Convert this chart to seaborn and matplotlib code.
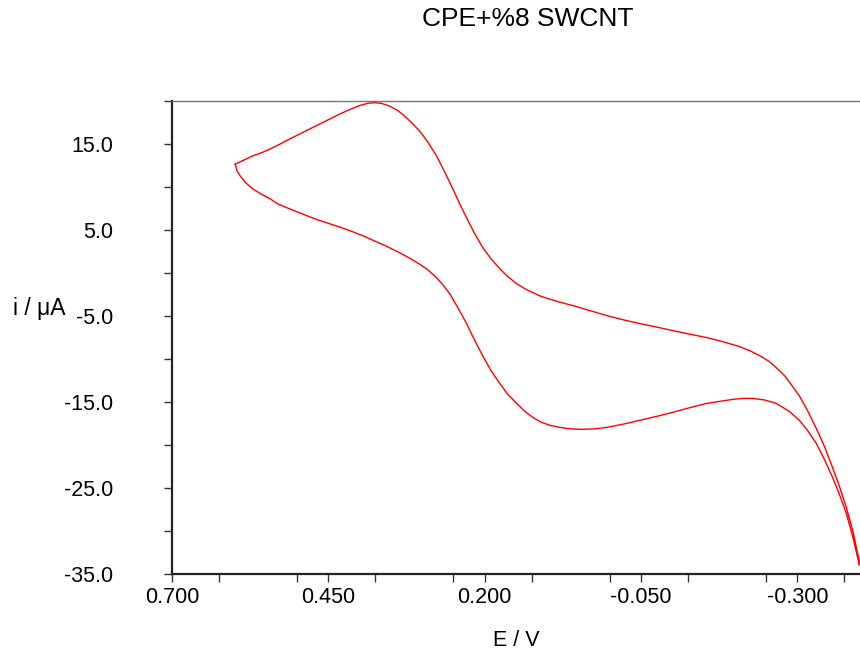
import numpy as np
import pandas as pd
import matplotlib
matplotlib.use("Agg")
import matplotlib.pyplot as plt
from matplotlib.ticker import MultipleLocator, FixedLocator
import seaborn as sns

title = "CPE+%8 SWCNT"
x_label = "E / V"
y_label = "i / μA"

# upper branch (left vertex -> right vertex)
E_upper = [0.599, 0.585, 0.571, 0.556, 0.543, 0.527, 0.512, 0.496, 0.480, 0.464,
           0.448, 0.432, 0.416, 0.400, 0.387, 0.376, 0.365, 0.352, 0.339, 0.328,
           0.317, 0.304, 0.291, 0.277, 0.264, 0.251, 0.240, 0.229, 0.216, 0.203,
           0.190, 0.176, 0.163, 0.149, 0.136, 0.123, 0.111, 0.096, 0.080, 0.059,
           0.032, 0.005, -0.020, -0.048, -0.075, -0.100, -0.127, -0.155, -0.180,
           -0.207, -0.223, -0.239, -0.255, -0.266, -0.279, -0.290, -0.303, -0.316,
           -0.330, -0.343, -0.356, -0.367, -0.378, -0.389, -0.399]
i_upper = [12.65, 13.14, 13.61, 14.01, 14.42, 15.00, 15.58, 16.16, 16.74, 17.32,
           17.90, 18.48, 19.00, 19.47, 19.73, 19.81, 19.72, 19.41, 18.89, 18.25,
           17.49, 16.51, 15.23, 13.61, 11.75, 9.78, 8.04, 6.42, 4.56, 2.94,
           1.66, 0.50, -0.43, -1.24, -1.82, -2.29, -2.69, -3.04, -3.39, -3.79,
           -4.37, -4.95, -5.42, -5.88, -6.29, -6.69, -7.10, -7.51, -7.97,
           -8.55, -9.01, -9.59, -10.29, -10.99, -11.91, -12.96, -14.29, -15.98,
           -18.06, -20.15, -22.59, -24.79, -27.23, -30.13, -33.60]

# lower branch (right vertex -> left vertex)
E_lower = [-0.399, -0.389, -0.378, -0.367, -0.356, -0.343, -0.330, -0.316, -0.303,
           -0.287, -0.266, -0.247, -0.228, -0.212, -0.196, -0.175, -0.155, -0.127,
           -0.100, -0.075, -0.048, -0.020, 0.005, 0.024, 0.043, 0.063, 0.080,
           0.096, 0.111, 0.123, 0.136, 0.149, 0.163, 0.176, 0.190, 0.203, 0.216,
           0.229, 0.243, 0.256, 0.267, 0.277, 0.291, 0.304, 0.320, 0.336, 0.357,
           0.379, 0.395, 0.411, 0.428, 0.448, 0.467, 0.484, 0.500, 0.516, 0.531,
           0.543, 0.558, 0.571, 0.582, 0.591, 0.596, 0.599]
i_lower = [-33.96, -30.82, -27.92, -25.72, -23.75, -21.66, -19.80, -18.29, -17.13,
           -16.09, -15.16, -14.76, -14.58, -14.58, -14.70, -14.93, -15.16, -15.68,
           -16.21, -16.67, -17.13, -17.60, -17.95, -18.12, -18.18, -18.12, -17.95,
           -17.71, -17.31, -16.79, -16.09, -15.16, -14.12, -12.84, -11.34, -9.66, -7.85,
           -5.88, -4.03, -2.40, -1.36, -0.55, 0.38, 1.02, 1.72, 2.35, 3.11,
           3.81, 4.33, 4.79, 5.25, 5.72, 6.18, 6.65, 7.11, 7.58, 8.04,
           8.62, 9.20, 9.78, 10.48, 11.29, 11.87, 12.65]

x_ticks = [0.700, 0.450, 0.200, -0.050, -0.300]
y_ticks = [-35.0, -25.0, -15.0, -5.0, 5.0, 15.0]

E = E_upper + E_lower
I = i_upper + i_lower
df = pd.DataFrame({"E": E, "i": I})

sns.set_theme(style="white")
plt.rcParams["font.family"] = ["Liberation Sans", "DejaVu Sans"]
plt.rcParams["text.color"] = "black"

fig = plt.figure(figsize=(8.6, 6.59), dpi=100)
ax = fig.add_axes([172/860, (659-574)/659, (860-172)/860, (574-101)/659])

sns.lineplot(data=df, x="E", y="i", sort=False, estimator=None, color="#ff0000",
             lw=1.0, ax=ax, solid_joinstyle="round")

ax.set_xlim(0.700, -0.400)
ax.set_ylim(-35.0, 20.0)

ax.xaxis.set_major_locator(FixedLocator(x_ticks))
ax.xaxis.set_minor_locator(MultipleLocator(0.125))
ax.yaxis.set_major_locator(FixedLocator(y_ticks))
ax.yaxis.set_minor_locator(MultipleLocator(5.0))
ax.set_xticklabels([f"{v:.3f}" for v in x_ticks])
ax.set_yticklabels([f"{v:.1f}" for v in y_ticks])

ax.tick_params(axis="both", which="both", direction="out", length=5.5, width=1.0,
               color="#333333", labelsize=15.5, labelcolor="black")
ax.tick_params(axis="both", which="both", bottom=True, left=True, top=False, right=False)
ax.tick_params(axis="y", which="major", pad=37)
ax.tick_params(axis="x", which="major", pad=4)

for s in ["left", "bottom"]:
    ax.spines[s].set_color("#222222")
    ax.spines[s].set_linewidth(1.6)
ax.spines["top"].set_color("#777777")
ax.spines["top"].set_linewidth(1.0)
ax.spines["right"].set_visible(False)

ax.set_xlabel("")
ax.set_ylabel("")
fig.text(516/860, 1 - 641/659, x_label, ha="center", va="center", fontsize=15.5, color="black")
fig.text(13/860, 1 - 309/659, y_label, ha="left", va="center", fontsize=16.5, color="black")
fig.text(528/860, 1 - 19/659, title, ha="center", va="center", fontsize=19, color="black")

fig.savefig("out.png", dpi=100)
